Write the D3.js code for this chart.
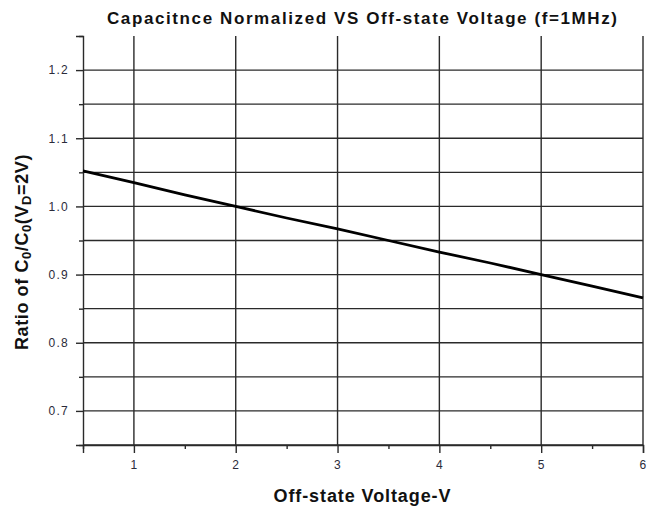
<!DOCTYPE html>
<html>
<head>
<meta charset="utf-8">
<script src="https://cdn.jsdelivr.net/npm/d3@7"></script>
<style>
  body { margin: 0; background: #fff; }
  text { font-family: "Liberation Sans", Arial, sans-serif; }
</style>
</head>
<body>
<svg id="chart" width="660" height="508"></svg>
<script>
// values
const voltage = [0.5, 1, 1.5, 2, 2.5, 3, 3.5, 4, 4.5, 5, 5.5, 6];
const ratio = [1.052, 1.035, 1.017, 1.0, 0.983, 0.967, 0.950, 0.933, 0.917, 0.900, 0.883, 0.866];
const xTicks = [1, 2, 3, 4, 5, 6];
const yTicks = [0.7, 0.8, 0.9, 1.0, 1.1, 1.2];
const yMinor = [0.65, 0.75, 0.85, 0.95, 1.05, 1.15, 1.25];
const xMinor = [0.5, 1.5, 2.5, 3.5, 4.5, 5.5];

const svg = d3.select("#chart");
const m = { left: 83, right: 643, top: 36, bottom: 445 };

const x = d3.scaleLinear().domain([0.5, 6]).range([m.left, m.right]);
const y = d3.scaleLinear().domain([0.65, 1.25]).range([m.bottom, m.top]);

const gridColor = "#2a2a2a";

// horizontal grid (every 0.05 up to 1.2)
svg.append("g").selectAll("line")
  .data(yTicks.concat(yMinor.filter(d => d < 1.22)))
  .join("line")
  .attr("x1", m.left).attr("x2", m.right)
  .attr("y1", d => y(d)).attr("y2", d => y(d))
  .attr("stroke", gridColor).attr("stroke-width", 1.4);

// vertical grid at integers
svg.append("g").selectAll("line")
  .data(xTicks)
  .join("line")
  .attr("x1", d => x(d)).attr("x2", d => x(d))
  .attr("y1", m.top).attr("y2", m.bottom)
  .attr("stroke", gridColor).attr("stroke-width", 1.4);

// left axis
const yAxis = d3.axisLeft(y).tickValues(yTicks).tickSize(7).tickFormat(d3.format(".1f"));
const gy = svg.append("g").attr("transform", `translate(${m.left},0)`).call(yAxis);
const gyMinor = svg.append("g").attr("transform", `translate(${m.left},0)`)
  .call(d3.axisLeft(y).tickValues(yMinor).tickSize(4).tickFormat(""));
gyMinor.select(".domain").remove();

// bottom axis
const xAxis = d3.axisBottom(x).tickValues(xTicks).tickSize(8).tickFormat(d3.format("d"));
const gx = svg.append("g").attr("transform", `translate(0,${m.bottom})`).call(xAxis);
const gxMinor = svg.append("g").attr("transform", `translate(0,${m.bottom})`)
  .call(d3.axisBottom(x).tickValues(xMinor).tickSize(4).tickFormat(""));
gxMinor.select(".domain").remove();

[gx, gy, gxMinor, gyMinor].forEach(g => {
  g.select(".domain").attr("stroke", gridColor).attr("stroke-width", 1.4).attr("fill", "none");
  g.selectAll(".tick line").attr("stroke", gridColor).attr("stroke-width", 1.4);
  g.selectAll(".tick text")
    .attr("fill", "#2b2b3a")
    .style("font-size", "12px")
    .style("letter-spacing", "1.3px")
    .style("font-family", "'Liberation Sans', Arial, sans-serif");
});
gy.selectAll(".tick text").attr("x", -14);
gx.selectAll(".tick text").attr("y", 15);

// data line
svg.append("path")
  .datum(voltage.map((v, i) => [v, ratio[i]]))
  .attr("fill", "none")
  .attr("stroke", "#000")
  .attr("stroke-width", 2.8)
  .attr("d", d3.line().x(d => x(d[0])).y(d => y(d[1])));

// title
svg.append("text")
  .attr("x", 362).attr("y", 24)
  .attr("text-anchor", "middle")
  .attr("textLength", 510).attr("lengthAdjust", "spacing")
  .style("font-size", "17px").style("font-weight", "bold")
  .attr("fill", "#111")
  .text("Capacitnce Normalized VS Off-state Voltage (f=1MHz)");

// x label
svg.append("text")
  .attr("x", 362).attr("y", 502)
  .attr("text-anchor", "middle")
  .attr("textLength", 177).attr("lengthAdjust", "spacing")
  .style("font-size", "18px").style("font-weight", "bold")
  .attr("fill", "#111")
  .text("Off-state Voltage-V");

// y label with subscripts
const yl = svg.append("text")
  .attr("transform", "translate(28,252) rotate(-90)")
  .attr("text-anchor", "middle")
  .style("font-size", "18px").style("font-weight", "bold")
  .style("letter-spacing", "0.6px")
  .attr("fill", "#111");
const parts = [["Ratio of C", 0], ["0", 1], ["/C", 0], ["0", 1], ["(V", 0], ["D", 1], ["=2V)", 0]];
parts.forEach(([t, sub]) => {
  yl.append("tspan")
    .attr("baseline-shift", sub ? "-25%" : null)
    .style("font-size", sub ? "13px" : null)
    .text(t);
});
</script>
</body>
</html>
